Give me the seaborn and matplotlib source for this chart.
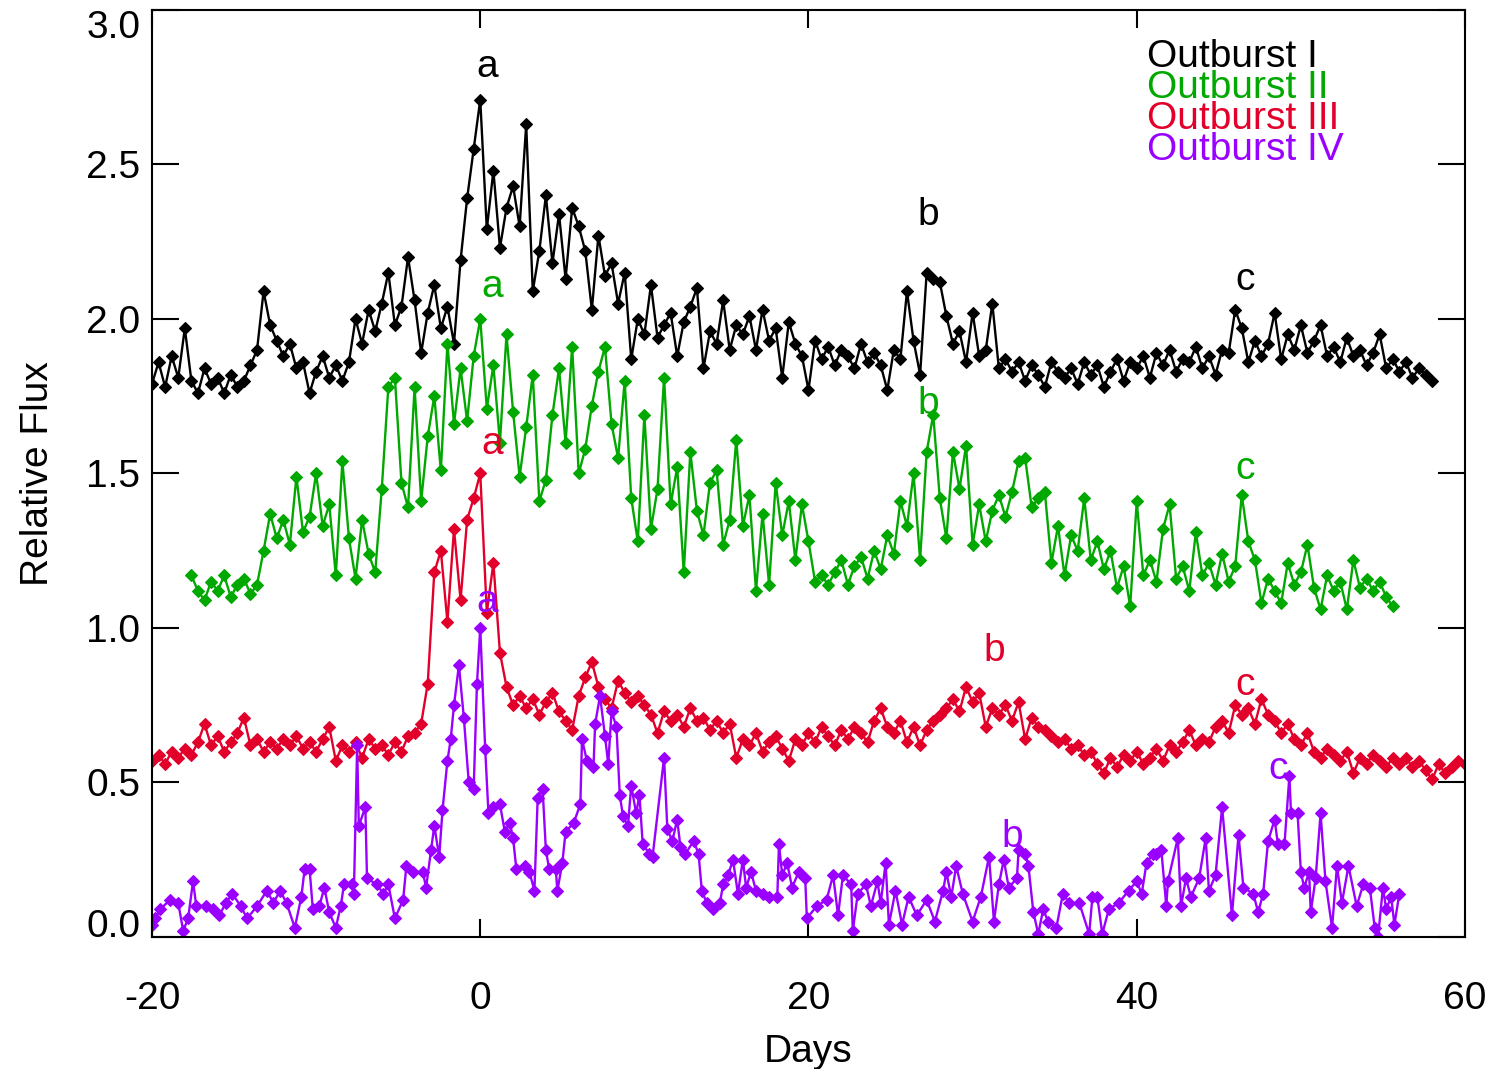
import numpy as np
import matplotlib
matplotlib.use("Agg")
import matplotlib.pyplot as plt
import seaborn as sns

# ---------------- data ----------------
# Outburst I (regular 0.4-day sampling from day -20)
days_I_start, days_step = -20.0, 0.4
flux_I = [
    1.79, 1.86, 1.78, 1.88, 1.81, 1.97, 1.80, 1.76, 1.84, 1.79,
    1.81, 1.76, 1.82, 1.78, 1.80, 1.85, 1.90, 2.09, 1.98, 1.93,
    1.88, 1.92, 1.84, 1.86, 1.76, 1.83, 1.88, 1.81, 1.85, 1.80,
    1.86, 2.00, 1.92, 2.03, 1.96, 2.05, 2.15, 1.98, 2.04, 2.20,
    2.06, 1.89, 2.02, 2.11, 1.97, 2.04, 1.92, 2.19, 2.39, 2.55,
    2.71, 2.29, 2.48, 2.23, 2.36, 2.43, 2.30, 2.63, 2.09, 2.22,
    2.40, 2.18, 2.34, 2.13, 2.36, 2.30, 2.22, 2.03, 2.27, 2.14,
    2.18, 2.05, 2.15, 1.87, 2.00, 1.95, 2.11, 1.94, 1.98, 2.02,
    1.88, 1.99, 2.04, 2.10, 1.84, 1.96, 1.92, 2.06, 1.90, 1.98,
    1.95, 2.01, 1.90, 2.03, 1.93, 1.97, 1.81, 1.99, 1.92, 1.88,
    1.77, 1.93, 1.87, 1.91, 1.85, 1.90, 1.88, 1.84, 1.92, 1.86,
    1.89, 1.85, 1.77, 1.90, 1.87, 2.09, 1.93, 1.82, 2.15, 2.13,
    2.12, 2.01, 1.92, 1.96, 1.86, 2.02, 1.88, 1.90, 2.05, 1.84,
    1.87, 1.83, 1.86, 1.80, 1.85, 1.82, 1.78, 1.86, 1.83, 1.81,
    1.84, 1.79, 1.86, 1.82, 1.85, 1.78, 1.83, 1.87, 1.80, 1.86,
    1.84, 1.88, 1.81, 1.89, 1.85, 1.90, 1.83, 1.87, 1.86, 1.91,
    1.84, 1.88, 1.82, 1.90, 1.89, 2.03, 1.97, 1.86, 1.93, 1.88,
    1.92, 2.02, 1.87, 1.95, 1.90, 1.98, 1.89, 1.93, 1.98, 1.88,
    1.91, 1.86, 1.94, 1.88, 1.90, 1.85, 1.89, 1.95, 1.84, 1.87,
    1.83, 1.86, 1.81, 1.84, 1.82, 1.80,
]

# Outburst II (regular 0.4-day sampling from day -17.6)
days_II_start = -17.6
flux_II = [
    1.17, 1.12, 1.09, 1.15, 1.12, 1.17, 1.10, 1.14, 1.16, 1.11,
    1.14, 1.25, 1.37, 1.29, 1.35, 1.27, 1.49, 1.31, 1.36, 1.50,
    1.33, 1.40, 1.17, 1.54, 1.29, 1.16, 1.35, 1.24, 1.18, 1.45,
    1.78, 1.81, 1.47, 1.39, 1.78, 1.41, 1.62, 1.75, 1.51, 1.92,
    1.66, 1.84, 1.67, 1.88, 2.00, 1.71, 1.85, 1.60, 1.95, 1.70,
    1.49, 1.65, 1.82, 1.41, 1.48, 1.69, 1.84, 1.60, 1.91, 1.50,
    1.58, 1.72, 1.83, 1.91, 1.66, 1.55, 1.80, 1.42, 1.28, 1.69,
    1.32, 1.45, 1.81, 1.40, 1.52, 1.18, 1.57, 1.38, 1.30, 1.47,
    1.51, 1.27, 1.35, 1.61, 1.33, 1.43, 1.12, 1.37, 1.14, 1.47,
    1.30, 1.41, 1.22, 1.40, 1.28, 1.15, 1.17, 1.14, 1.18, 1.22,
    1.14, 1.20, 1.23, 1.16, 1.25, 1.19, 1.30, 1.24, 1.41, 1.33,
    1.50, 1.22, 1.57, 1.69, 1.42, 1.29, 1.57, 1.45, 1.59, 1.27,
    1.40, 1.28, 1.38, 1.43, 1.36, 1.44, 1.54, 1.55, 1.39, 1.42,
    1.44, 1.21, 1.33, 1.17, 1.30, 1.25, 1.42, 1.22, 1.28, 1.19,
    1.25, 1.13, 1.20, 1.07, 1.41, 1.17, 1.22, 1.15, 1.32, 1.40,
    1.16, 1.20, 1.12, 1.31, 1.17, 1.21, 1.14, 1.24, 1.15, 1.20,
    1.43, 1.28, 1.22, 1.08, 1.16, 1.12, 1.08, 1.21, 1.14, 1.18,
    1.27, 1.13, 1.06, 1.17, 1.12, 1.15, 1.06, 1.22, 1.13, 1.16,
    1.12, 1.15, 1.10, 1.07,
]

# Outburst III (regular 0.4-day sampling from day -20)
days_III_start = -20.0
flux_III = [
    0.57, 0.59, 0.56, 0.60, 0.58, 0.61, 0.59, 0.63, 0.69, 0.62,
    0.65, 0.60, 0.63, 0.66, 0.71, 0.62, 0.64, 0.60, 0.63, 0.61,
    0.64, 0.62, 0.65, 0.61, 0.63, 0.60, 0.64, 0.68, 0.57, 0.62,
    0.60, 0.63, 0.58, 0.64, 0.61, 0.62, 0.59, 0.63, 0.60, 0.65,
    0.66, 0.69, 0.82, 1.18, 1.25, 1.02, 1.32, 1.09, 1.35, 1.42,
    1.50, 1.05, 1.21, 0.92, 0.81, 0.75, 0.78, 0.74, 0.77, 0.72,
    0.76, 0.79, 0.73, 0.70, 0.67, 0.78, 0.84, 0.89, 0.81, 0.77,
    0.74, 0.83, 0.79, 0.76, 0.78, 0.75, 0.72, 0.66, 0.73, 0.70,
    0.72, 0.68, 0.74, 0.70, 0.71, 0.67, 0.70, 0.66, 0.69, 0.58,
    0.64, 0.62, 0.66, 0.60, 0.63, 0.65, 0.61, 0.57, 0.64, 0.62,
    0.66, 0.63, 0.68, 0.65, 0.62, 0.67, 0.64, 0.68, 0.66, 0.63,
    0.70, 0.74, 0.68, 0.66, 0.70, 0.63, 0.68, 0.62, 0.67, 0.70,
    0.72, 0.74, 0.77, 0.73, 0.81, 0.76, 0.79, 0.68, 0.74, 0.72,
    0.75, 0.70, 0.76, 0.64, 0.71, 0.68, 0.67, 0.65, 0.63, 0.64,
    0.61, 0.62, 0.59, 0.60, 0.56, 0.53, 0.58, 0.55, 0.59, 0.57,
    0.60, 0.56, 0.58, 0.61, 0.57, 0.62, 0.60, 0.63, 0.67, 0.62,
    0.64, 0.63, 0.68, 0.70, 0.66, 0.75, 0.72, 0.74, 0.69, 0.77,
    0.72, 0.70, 0.66, 0.69, 0.64, 0.62, 0.66, 0.60, 0.58, 0.61,
    0.59, 0.57, 0.60, 0.53, 0.58, 0.56, 0.59, 0.57, 0.55, 0.58,
    0.56, 0.58, 0.55, 0.57, 0.54, 0.51, 0.56, 0.53, 0.55, 0.57,
    0.56,
]

# Outburst IV (irregular sampling)
days_IV = [
    -20.0, -19.8, -19.5, -18.9, -18.4, -18.1, -17.8, -17.5, -17.3, -16.7,
    -16.3, -15.9, -15.5, -15.1, -14.6, -14.2, -13.6, -13.0, -12.6, -12.2,
    -11.8, -11.3, -10.9, -10.7, -10.4, -10.2, -9.8, -9.5, -9.2, -8.8,
    -8.5, -8.3, -7.8, -7.7, -7.5, -7.4, -7.0, -6.9, -6.3, -5.9,
    -5.6, -5.2, -4.7, -4.5, -4.1, -3.5, -3.3, -3.0, -2.8, -2.5,
    -2.3, -2.0, -1.8, -1.6, -1.3, -1.0, -0.7, -0.4, -0.2, 0.0,
    0.3, 0.5, 0.8, 1.2, 1.5, 1.8, 2.0, 2.2, 2.7, 3.0,
    3.3, 3.5, 3.8, 4.0, 4.2, 4.6, 4.7, 5.0, 5.2, 5.7,
    6.1, 6.2, 6.5, 6.9, 7.0, 7.3, 7.6, 7.8, 8.0, 8.3,
    8.5, 8.7, 9.0, 9.2, 9.5, 9.7, 9.9, 10.3, 10.5, 11.2,
    11.4, 11.7, 12.0, 12.2, 12.5, 13.0, 13.3, 13.5, 13.8, 14.2,
    14.6, 14.8, 15.1, 15.4, 15.7, 16.0, 16.2, 16.5, 16.8, 17.2,
    17.6, 18.1, 18.2, 18.4, 18.7, 19.0, 19.4, 19.8, 19.9, 20.5,
    21.1, 21.5, 21.8, 22.1, 22.6, 22.7, 23.0, 23.5, 23.8, 24.2,
    24.4, 24.7, 24.9, 25.3, 25.7, 26.1, 26.6, 27.2, 27.7, 28.2,
    28.4, 28.7, 29.0, 29.4, 30.0, 30.5, 31.0, 31.3, 31.6, 31.9,
    32.2, 32.7, 32.8, 33.2, 33.4, 33.7, 34.0, 34.3, 34.6, 35.1,
    35.5, 35.9, 36.5, 37.1, 37.3, 37.6, 37.9, 38.3, 38.9, 39.5,
    40.0, 40.3, 40.6, 41.0, 41.2, 41.5, 41.8, 41.9, 42.5, 42.7,
    43.0, 43.3, 43.8, 44.2, 44.4, 44.8, 45.2, 45.8, 46.2, 46.5,
    47.1, 47.4, 47.7, 48.0, 48.4, 48.6, 49.0, 49.3, 49.4, 49.8,
    50.0, 50.2, 50.5, 50.6, 50.9, 51.2, 51.5, 51.9, 52.2, 52.5,
    52.9, 53.4, 53.8, 54.2, 54.5, 54.7, 55.0, 55.2, 55.5, 55.7,
    56.0,
]
flux_IV = [
    0.04, 0.06, 0.09, 0.12, 0.11, 0.02, 0.06, 0.18, 0.10, 0.10,
    0.09, 0.07, 0.11, 0.14, 0.10, 0.06, 0.10, 0.15, 0.11, 0.15,
    0.11, 0.03, 0.13, 0.22, 0.22, 0.09, 0.10, 0.16, 0.08, 0.03,
    0.10, 0.17, 0.17, 0.14, 0.62, 0.36, 0.42, 0.19, 0.17, 0.14,
    0.17, 0.06, 0.12, 0.23, 0.21, 0.21, 0.16, 0.28, 0.36, 0.26,
    0.41, 0.57, 0.64, 0.75, 0.88, 0.71, 0.50, 0.48, 0.82, 1.00,
    0.61, 0.40, 0.42, 0.43, 0.34, 0.37, 0.32, 0.22, 0.23, 0.21,
    0.15, 0.45, 0.48, 0.28, 0.22, 0.22, 0.15, 0.24, 0.34, 0.37,
    0.43, 0.64, 0.57, 0.55, 0.69, 0.78, 0.65, 0.56, 0.73, 0.68,
    0.46, 0.39, 0.36, 0.49, 0.40, 0.46, 0.30, 0.27, 0.26, 0.58,
    0.35, 0.31, 0.38, 0.29, 0.27, 0.31, 0.27, 0.15, 0.11, 0.09,
    0.11, 0.17, 0.20, 0.25, 0.14, 0.25, 0.16, 0.21, 0.15, 0.14,
    0.13, 0.13, 0.30, 0.20, 0.24, 0.16, 0.21, 0.19, 0.06, 0.10,
    0.12, 0.20, 0.07, 0.20, 0.17, 0.02, 0.14, 0.17, 0.10, 0.18,
    0.11, 0.24, 0.04, 0.15, 0.04, 0.13, 0.07, 0.12, 0.05, 0.15,
    0.21, 0.13, 0.23, 0.14, 0.05, 0.13, 0.26, 0.05, 0.17, 0.25,
    0.16, 0.19, 0.28, 0.27, 0.23, 0.08, 0.01, 0.09, 0.05, 0.03,
    0.14, 0.11, 0.11, 0.01, 0.13, 0.13, 0.01, 0.09, 0.11, 0.15,
    0.18, 0.14, 0.24, 0.27, 0.27, 0.28, 0.10, 0.18, 0.32, 0.10,
    0.19, 0.13, 0.19, 0.32, 0.15, 0.20, 0.42, 0.07, 0.33, 0.16,
    0.14, 0.08, 0.14, 0.31, 0.38, 0.30, 0.30, 0.52, 0.40, 0.40,
    0.21, 0.16, 0.21, 0.08, 0.19, 0.40, 0.18, 0.03, 0.23, 0.11,
    0.23, 0.10, 0.17, 0.16, 0.03, 0.00, 0.16, 0.09, 0.13, 0.04,
    0.14,
]

series_names = ["Outburst I", "Outburst II", "Outburst III", "Outburst IV"]
series_colors = ["#000000", "#00a800", "#e2002b", "#9a00ff"]

# feature letters (label, day, flux) for each outburst
feature_labels = [
    [("a", 0.45, 2.815), ("b", 27.3, 2.335), ("c", 46.6, 2.125)],
    [("a", 0.75, 2.105), ("b", 27.3, 1.725), ("c", 46.6, 1.515)],
    [("a", 0.75, 1.595), ("b", 31.3, 0.925), ("c", 46.6, 0.815)],
    [("a", 0.45, 1.085), ("b", 32.4, 0.325), ("c", 48.6, 0.545)],
]

x_ticks = [-20, 0, 20, 40, 60]
y_ticks = [0.0, 0.5, 1.0, 1.5, 2.0, 2.5, 3.0]
y_tick_labels = ["0.0", "0.5", "1.0", "1.5", "2.0", "2.5", "3.0"]


def grid(start, values):
    return start + days_step * np.arange(len(values))


series_days = [
    grid(days_I_start, flux_I),
    grid(days_II_start, flux_II),
    grid(days_III_start, flux_III),
    np.array(days_IV),
]
series_flux = [flux_I, flux_II, flux_III, flux_IV]

# ---------------- style ----------------
sns.set_style("ticks")
plt.rcParams["font.family"] = ["Liberation Sans", "DejaVu Sans"]
plt.rcParams["axes.unicode_minus"] = False
plt.rcParams["text.color"] = "black"
plt.rcParams["axes.labelcolor"] = "black"
FS = 28

fig = plt.figure(figsize=(14.9, 10.69), dpi=100)
ax = fig.add_axes([0.10201, 0.12348, 0.88121, 0.86717])

for d, f, c in zip(series_days, series_flux, series_colors):
    sns.lineplot(x=d, y=f, ax=ax, color=c, linewidth=1.7, marker="D",
                 markersize=6.6, markeredgecolor=c, markeredgewidth=0.8,
                 estimator=None, sort=False)

for labels, c in zip(feature_labels, series_colors):
    for txt, xd, yv in labels:
        ax.text(xd, yv, txt, color=c, fontsize=FS, ha="center", va="center")

legend_y = [2.848, 2.747, 2.647, 2.546]
for name, c, yv in zip(series_names, series_colors, legend_y):
    ax.text(40.6, yv, name, color=c, fontsize=FS, ha="left", va="center")

ax.set_xlim(-20, 60)
ax.set_ylim(0, 3.0)
ax.set_xticks(x_ticks)
ax.set_xticklabels([str(t) for t in x_ticks])
ax.set_yticks(y_ticks)
ax.set_yticklabels(y_tick_labels)

for s in ax.spines.values():
    s.set_visible(True)
    s.set_linewidth(1.5)
    s.set_color("black")

ax.tick_params(axis="x", direction="in", length=13, width=1.5, top=True,
               labelsize=FS, pad=32, colors="black")
ax.tick_params(axis="y", direction="in", length=19.5, width=1.5, right=True,
               labelsize=FS, pad=8.5, colors="black")

ylabs = ax.get_yticklabels()
ylabs[0].set_va("baseline")
ylabs[-1].set_va("top")

ax.set_xlabel("Days", fontsize=FS, color="black")
ax.set_ylabel("Relative Flux", fontsize=FS, color="black")
ax.xaxis.set_label_coords(0.5, -0.105)
ax.yaxis.set_label_coords(-0.073, 0.5)

fig.savefig("out.png", dpi=100)
